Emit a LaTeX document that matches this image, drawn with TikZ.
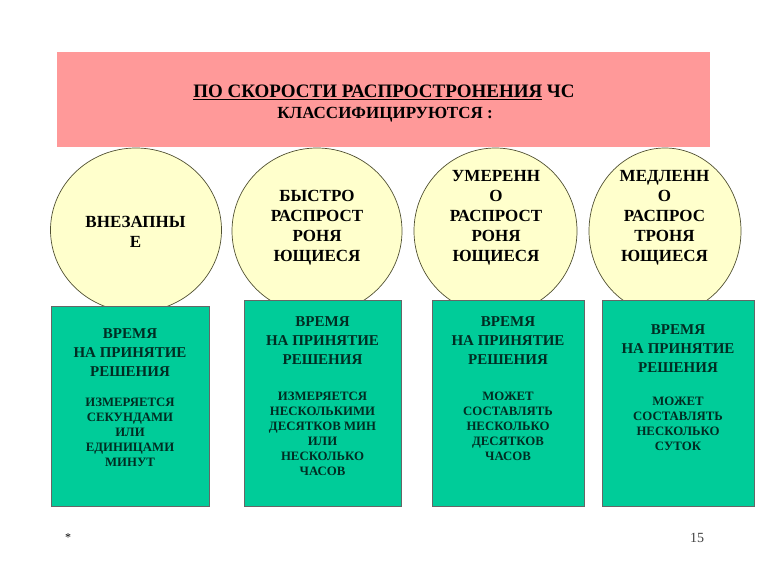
\documentclass[tikz,border=0pt]{standalone}
\usepackage{fontspec}
\setmainfont{Liberation Serif}
\usepackage{tikz}
\usetikzlibrary{shapes.geometric, positioning}

\definecolor{titlepink}{RGB}{255,153,153}
\definecolor{ovalyellow}{RGB}{255,255,204}
\definecolor{boxgreen}{RGB}{0,204,153}
\definecolor{boxink}{RGB}{0,45,35}
\definecolor{ovalline}{RGB}{80,80,50}

\begin{document}
\begin{tikzpicture}[x=1pt, y=-1pt,
    oval/.style={ellipse, draw=ovalline, line width=0.7pt, fill=ovalyellow, inner sep=0pt},
    ovaltext/.style={align=center, inner sep=0pt, font=\bfseries\fontsize{17}{20}\selectfont},
    greenbox/.style={rectangle, draw=black!60, line width=0.7pt, fill=boxgreen, inner sep=0pt, minimum width=#1},
    headtext/.style={align=center, inner sep=0pt, text=boxink, font=\bfseries\fontsize{15}{19}\selectfont},
    infotext/.style={align=center, inner sep=0pt, text=boxink, font=\bfseries\fontsize{12.8}{15}\selectfont}]
            \useasboundingbox[fill=white] (0,0) rectangle (768,576);

            % title
            \node[rectangle, fill=titlepink, minimum width=653, minimum height=95] at (383.5,99.5) (title) {};
            \node[inner sep=0pt, font=\bfseries\fontsize{19}{22}\selectfont] at (384,92) (titletop)
                {\underline{ПО СКОРОСТИ РАСПРОСТРОНЕНИЯ} ЧС};
            \node[inner sep=0pt, font=\bfseries\fontsize{17}{20}\selectfont] at (385,115) (titlebot)
                {КЛАССИФИЦИРУЮТСЯ :};

            % ovals
            \node[oval, minimum width=171, minimum height=164] at (136,230) (o1) {};
            \node[oval, minimum width=170, minimum height=166] at (317,231) (o2) {};
            \node[oval, minimum width=163, minimum height=166] at (495.5,231) (o3) {};
            \node[oval, minimum width=152, minimum height=166] at (665,231) (o4) {};

            \node[ovaltext] at (135.5,232) (o1t) {ВНЕЗАПНЫ\\Е};
            \node[ovaltext] at (317,228) (o2t) {БЫСТРО\\РАСПРОСТ\\РОНЯ\\ЮЩИЕСЯ};
            \node[ovaltext] at (496,218) (o3t) {УМЕРЕНН\\О\\РАСПРОСТ\\РОНЯ\\ЮЩИЕСЯ};
            \node[ovaltext] at (664.5,218) (o4t) {МЕДЛЕНН\\О\\РАСПРОС\\ТРОНЯ\\ЮЩИЕСЯ};

            % green boxes
            \node[greenbox=158, minimum height=200] at (130,406) (b1) {};
            \node[greenbox=157, minimum height=206] at (322.5,403) (b2) {};
            \node[greenbox=152, minimum height=206] at (508,403) (b3) {};
            \node[greenbox=152, minimum height=206] at (678,403) (b4) {};

            \node[headtext] at (130,353) (b1h) {ВРЕМЯ\\НА ПРИНЯТИЕ\\РЕШЕНИЯ};
            \node[headtext] at (322.5,341) (b2h) {ВРЕМЯ\\НА ПРИНЯТИЕ\\РЕШЕНИЯ};
            \node[headtext] at (508,341) (b3h) {ВРЕМЯ\\НА ПРИНЯТИЕ\\РЕШЕНИЯ};
            \node[headtext] at (678,349) (b4h) {ВРЕМЯ\\НА ПРИНЯТИЕ\\РЕШЕНИЯ};

            \node[infotext] at (130,432) (b1i) {ИЗМЕРЯЕТСЯ\\СЕКУНДАМИ\\ИЛИ\\ЕДИНИЦАМИ\\МИНУТ};
            \node[infotext] at (322.5,434) (b2i) {ИЗМЕРЯЕТСЯ\\НЕСКОЛЬКИМИ\\ДЕСЯТКОВ МИН\\ИЛИ\\НЕСКОЛЬКО\\ЧАСОВ};
            \node[infotext] at (508,426) (b3i) {МОЖЕТ\\СОСТАВЛЯТЬ\\НЕСКОЛЬКО\\ДЕСЯТКОВ\\ЧАСОВ};
            \node[infotext] at (678,424) (b4i) {МОЖЕТ\\СОСТАВЛЯТЬ\\НЕСКОЛЬКО\\СУТОК};

            % footer
            \node[font=\fontsize{12}{14}\selectfont, inner sep=0pt] at (68,538) (star) {*};
            \node[font=\fontsize{14}{16}\selectfont, text=black!75, inner sep=0pt] at (697,538) (pagenum) {15};
        \end{tikzpicture}
\end{document}
